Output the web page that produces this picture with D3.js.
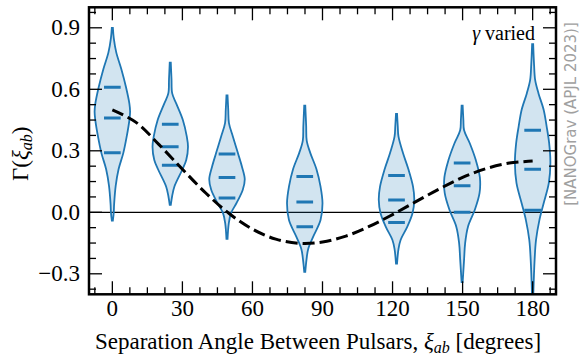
<!DOCTYPE html>
<html>
<head>
<meta charset="utf-8">
<script src="https://cdn.jsdelivr.net/npm/d3@7"></script>
</head>
<body style="margin:0">
<script>
// bin centres (degrees)
const binAngles = [0, 24.8, 49.1, 82.4, 121.7, 149.8, 180];

// lower quartile, median, upper quartile for each bin
const quartiles = [
  [0.29, 0.46, 0.61],
  [0.23, 0.32, 0.43],
  [0.07, 0.17, 0.285],
  [-0.07, 0.05, 0.175],
  [-0.05, 0.06, 0.18],
  [0.0, 0.13, 0.24],
  [0.01, 0.21, 0.40]
];

// violin outlines: [value, relative density]
const densities = [
  [[0.90, 0.03], [0.85, 0.08], [0.78, 0.22], [0.70, 0.50], [0.61, 0.77], [0.53, 0.96], [0.49, 1.0],
   [0.45, 0.96], [0.37, 0.81], [0.29, 0.62], [0.21, 0.35], [0.13, 0.19], [0.04, 0.10], [0.0, 0.08], [-0.04, 0.03]],
  [[0.73, 0.03], [0.65, 0.07], [0.58, 0.11], [0.53, 0.34], [0.45, 0.71], [0.37, 0.93], [0.32, 1.0],
   [0.255, 0.9], [0.21, 0.69], [0.125, 0.23], [0.076, 0.1], [0.036, 0.03]],
  [[0.57, 0.03], [0.50, 0.07], [0.435, 0.11], [0.37, 0.33], [0.29, 0.61], [0.22, 0.85], [0.16, 1.0],
   [0.11, 0.89], [0.044, 0.53], [-0.005, 0.22], [-0.054, 0.1], [-0.13, 0.03]],
  [[0.52, 0.03], [0.42, 0.08], [0.35, 0.11], [0.29, 0.31], [0.21, 0.66], [0.125, 0.89], [0.044, 1.0],
   [-0.038, 0.89], [-0.12, 0.47], [-0.18, 0.19], [-0.23, 0.1], [-0.29, 0.03]],
  [[0.48, 0.03], [0.42, 0.07], [0.37, 0.11], [0.29, 0.36], [0.21, 0.67], [0.125, 0.93], [0.06, 1.0],
   [-0.005, 0.9], [-0.07, 0.61], [-0.135, 0.23], [-0.18, 0.11], [-0.25, 0.03]],
  [[0.52, 0.03], [0.45, 0.07], [0.40, 0.11], [0.337, 0.43], [0.255, 0.77], [0.17, 1.0], [0.093, 0.98],
   [0.011, 0.71], [-0.07, 0.33], [-0.15, 0.17], [-0.23, 0.11], [-0.34, 0.03]],
  [[0.82, 0.03], [0.72, 0.08], [0.646, 0.14], [0.58, 0.33], [0.50, 0.62], [0.418, 0.79], [0.337, 0.93],
   [0.24, 1.0], [0.142, 0.91], [0.044, 0.62], [-0.038, 0.38], [-0.135, 0.19], [-0.233, 0.11], [-0.42, 0.03]]
];

// Hellings-Downs curve, read every 10 degrees
const hdAngles = [0, 10, 20, 30, 40, 50, 60, 70, 80, 90, 100, 110, 120, 130, 140, 150, 160, 170, 180];
const hdValues = [0.50, 0.44, 0.33, 0.21, 0.094, -0.006, -0.082, -0.131, -0.151, -0.145, -0.116,
  -0.069, -0.011, 0.052, 0.114, 0.17, 0.213, 0.24, 0.25];

const xTicks = [0, 30, 60, 90, 120, 150, 180];
const yTicks = [-0.3, 0.0, 0.3, 0.6, 0.9];

const width = 582, height = 357;
const margin = {top: 7.3, right: 26, bottom: 62.7, left: 89};
const blue = '#1f77b4';
const serif = '"Liberation Serif"';

const x = d3.scaleLinear().domain([-10, 190]).range([margin.left, width - margin.right]);
const y = d3.scaleLinear().domain([-0.4, 1.0]).range([height - margin.bottom, margin.top]);
// violin half width: 7.6 degrees at peak density
const halfW = d3.scaleLinear().domain([0, 1]).range([0, x(7.6) - x(0)]);

const svg = d3.select('body').append('svg')
  .attr('width', width)
  .attr('height', height);

svg.append('defs').append('clipPath').attr('id', 'plot-clip')
  .append('rect')
  .attr('x', x(-10)).attr('y', y(1.0))
  .attr('width', x(190) - x(-10)).attr('height', y(-0.4) - y(1.0));

const plot = svg.append('g').attr('clip-path', 'url(#plot-clip)');

// zero line
plot.append('line')
  .attr('x1', x(-10)).attr('x2', x(190))
  .attr('y1', y(0)).attr('y2', y(0))
  .attr('stroke', '#000')
  .attr('stroke-width', 1.3);

const violins = plot.selectAll('g.violin')
  .data(binAngles.map((a, i) => ({angle: a, dens: densities[i], q: quartiles[i]})))
  .join('g')
  .attr('class', 'violin');

violins.append('path')
  .attr('d', d => d3.area()
    .y(p => y(p[0]))
    .x0(p => x(d.angle) - halfW(p[1]))
    .x1(p => x(d.angle) + halfW(p[1]))
    .curve(d3.curveCatmullRom)(d.dens))
  .attr('fill', blue)
  .attr('fill-opacity', 0.2)
  .attr('stroke', blue)
  .attr('stroke-width', 1.8);

violins.selectAll('line.q')
  .data(d => d.q.map(v => ({angle: d.angle, v})))
  .join('line')
  .attr('class', 'q')
  .attr('x1', d => x(d.angle) - halfW(0.47))
  .attr('x2', d => x(d.angle) + halfW(0.47))
  .attr('y1', d => y(d.v))
  .attr('y2', d => y(d.v))
  .attr('stroke', blue)
  .attr('stroke-width', 3);

// HD curve
plot.append('path')
  .datum(hdAngles.map((a, i) => [a, hdValues[i]]))
  .attr('d', d3.line().x(d => x(d[0])).y(d => y(d[1])).curve(d3.curveCatmullRom))
  .attr('fill', 'none')
  .attr('stroke', '#000')
  .attr('stroke-width', 3)
  .attr('stroke-dasharray', '12,5');

// inward ticks on all four sides
const xMinor = d3.range(-7.5, 190, 7.5);
const yMinor = d3.range(-0.375, 1.0, 0.075);
const major = 13, minor = 7;
const ticks = svg.append('g').attr('stroke', '#000').attr('stroke-width', 1.3);

ticks.selectAll('line.xt')
  .data(xMinor.flatMap(v => [{v, side: 'b'}, {v, side: 't'}]))
  .join('line')
  .attr('x1', d => x(d.v)).attr('x2', d => x(d.v))
  .attr('y1', d => d.side === 'b' ? y(-0.4) : y(1.0))
  .attr('y2', d => {
    const len = Math.abs(d.v % 30) < 1e-6 ? major : minor;
    return d.side === 'b' ? y(-0.4) - len : y(1.0) + len;
  });

ticks.selectAll('line.yt')
  .data(yMinor.flatMap(v => [{v, side: 'l'}, {v, side: 'r'}]))
  .join('line')
  .attr('y1', d => y(d.v)).attr('y2', d => y(d.v))
  .attr('x1', d => d.side === 'l' ? x(-10) : x(190))
  .attr('x2', d => {
    const isMajor = yTicks.some(t => Math.abs(t - d.v) < 1e-6);
    const len = isMajor ? major : minor;
    return d.side === 'l' ? x(-10) + len : x(190) - len;
  });

// frame
svg.append('rect')
  .attr('x', x(-10)).attr('y', y(1.0))
  .attr('width', x(190) - x(-10)).attr('height', y(-0.4) - y(1.0))
  .attr('fill', 'none')
  .attr('stroke', '#000')
  .attr('stroke-width', 2.5);

// tick labels
svg.append('g').selectAll('text')
  .data(xTicks)
  .join('text')
  .style('font-family', serif, 'important')
  .attr('x', d => x(d))
  .attr('y', 316)
  .attr('text-anchor', 'middle')
  .attr('font-size', 23)
  .text(d => d);

svg.append('g').selectAll('text')
  .data(yTicks)
  .join('text')
  .style('font-family', serif, 'important')
  .attr('x', 80)
  .attr('y', d => y(d) + 7.5)
  .attr('text-anchor', 'end')
  .attr('font-size', 23)
  .text(d => d3.format('.1f')(d));

// axis labels
const xl = svg.append('text')
  .style('font-family', serif, 'important')
  .attr('x', 318)
  .attr('y', 349)
  .attr('text-anchor', 'middle')
  .attr('font-size', 23);
xl.append('tspan').text('Separation Angle Between Pulsars, ');
xl.append('tspan').attr('font-style', 'italic').text('ξ');
xl.append('tspan').attr('font-style', 'italic').attr('font-size', 16).attr('dy', 4).text('ab');
xl.append('tspan').attr('dy', -4).text(' [degrees]');

const yl = svg.append('text')
  .style('font-family', serif, 'important')
  .attr('transform', `translate(28,${(y(1.0) + y(-0.4)) / 2 + 3}) rotate(-90)`)
  .attr('text-anchor', 'middle')
  .attr('font-size', 23);
yl.append('tspan').text('Γ(');
yl.append('tspan').attr('font-style', 'italic').text('ξ');
yl.append('tspan').attr('font-style', 'italic').attr('font-size', 16).attr('dy', 4).text('ab');
yl.append('tspan').attr('dy', -4).text(')');

const gv = svg.append('text')
  .style('font-family', serif, 'important')
  .attr('x', 535)
  .attr('y', 40)
  .attr('text-anchor', 'end')
  .attr('font-size', 20);
gv.append('tspan').attr('font-style', 'italic').text('γ');
gv.append('tspan').text(' varied');

svg.append('text')
  .style('font-family', '"DejaVu Sans"')
  .attr('transform', 'translate(576,114) rotate(-90)')
  .attr('text-anchor', 'middle')
  .attr('font-size', 15)
  .attr('fill', '#a0a0a0')
  .text('[NANOGrav (APJL 2023)]');
</script>
</body>
</html>
